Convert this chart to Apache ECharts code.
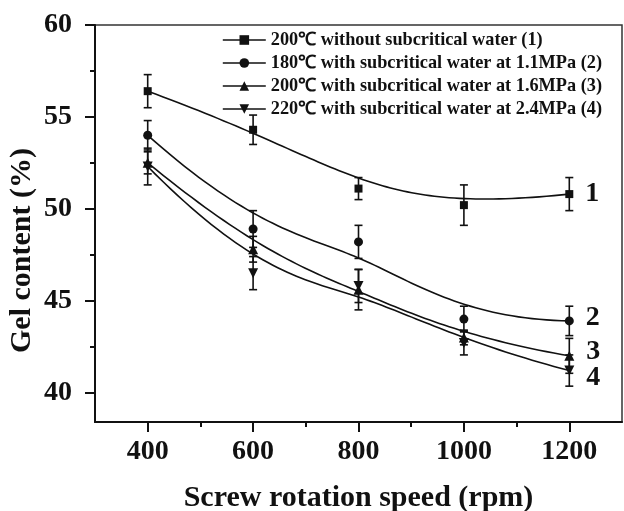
<!DOCTYPE html>
<html>
<head>
<meta charset="utf-8">
<script src="https://cdn.jsdelivr.net/npm/echarts@6/dist/echarts.min.js"></script>
<style>
  html, body { margin: 0; padding: 0; background: #fff; }
  #chart { width: 624px; height: 511px; }
</style>
</head>
<body>
<div id="chart"></div>
<script>
// screw speed (rpm)
const speeds = [400, 600, 800, 1000, 1200];

// gel content (%) and error bars
const gel1 = [56.4, 54.3, 51.1, 50.2, 50.8];
const err1 = [0.9, 0.8, 0.6, 1.1, 0.9];
const gel2 = [54.0, 48.9, 48.2, 44.0, 43.9];
const err2 = [0.8, 1.0, 0.9, 0.7, 0.8];
const gel3 = [52.5, 47.8, 45.6, 43.0, 42.0];
const err3 = [0.6, 0.7, 1.1, 0.4, 0.95];
const gel4 = [52.3, 46.5, 45.8, 42.7, 41.2];
const err4 = [1.0, 0.9, 0.9, 0.65, 0.85];

const names = [
  '200℃ without subcritical water (1)',
  '180℃ with subcritical water at 1.1MPa (2)',
  '200℃ with subcritical water at 1.6MPa (3)',
  '220℃ with subcritical water at 2.4MPa (4)'
];
const tags = ['1', '2', '3', '4'];

const yTicks = [40, 45, 50, 55, 60];
const yMinorTicks = [42.5, 47.5, 52.5, 57.5];
const xTicks = [400, 600, 800, 1000, 1200];
const xMinorTicks = [500, 700, 900, 1100];

const FONT = "'Liberation Serif', 'Times New Roman', serif";
const INK = '#111';

const chart = echarts.init(document.getElementById('chart'));

const sets = [
  { y: gel1, e: err1, symbol: 'rect', size: 8, rot: 0, tagDy: 0 },
  { y: gel2, e: err2, symbol: 'circle', size: 9, rot: 0, tagDy: -3 },
  { y: gel3, e: err3, symbol: 'triangle', size: 10, rot: 0, tagDy: -4 },
  { y: gel4, e: err4, symbol: 'triangle', size: 10, rot: 180, tagDy: 7 }
];

// clamped cubic B-spline with the data points as control points (like Origin's "B-Spline" connect)
function basis(i, p, u, knots) {
  if (p === 0) {
    if (u === knots[knots.length - 1]) return (knots[i] < u && u <= knots[i + 1]) ? 1 : 0;
    return (knots[i] <= u && u < knots[i + 1]) ? 1 : 0;
  }
  let a = 0, b = 0;
  const d1 = knots[i + p] - knots[i];
  const d2 = knots[i + p + 1] - knots[i + 1];
  if (d1 > 0) a = (u - knots[i]) / d1 * basis(i, p - 1, u, knots);
  if (d2 > 0) b = (knots[i + p + 1] - u) / d2 * basis(i + 1, p - 1, u, knots);
  return a + b;
}

function bsplinePath(xs, ys, api) {
  const n = xs.length, p = 3;
  const inner = n - p - 1;
  const knots = [];
  for (let i = 0; i <= p; i++) knots.push(0);
  for (let i = 1; i <= inner; i++) knots.push(i / (inner + 1));
  for (let i = 0; i <= p; i++) knots.push(1);
  const pts = [];
  const steps = 80;
  for (let s = 0; s <= steps; s++) {
    const u = s / steps;
    let x = 0, y = 0;
    for (let i = 0; i < n; i++) {
      const w = basis(i, p, u, knots);
      x += w * xs[i];
      y += w * ys[i];
    }
    pts.push(api.coord([x, y]));
  }
  return pts;
}

function errorBars(params, api) {
  const x = api.value(0), y = api.value(1), e = api.value(2);
  const top = api.coord([x, y + e]);
  const bot = api.coord([x, y - e]);
  const w = 4;
  const style = { stroke: INK, lineWidth: 1.6 };
  return {
    type: 'group',
    children: [
      { type: 'line', shape: { x1: top[0], y1: top[1], x2: bot[0], y2: bot[1] }, style: style },
      { type: 'line', shape: { x1: top[0] - w, y1: top[1], x2: top[0] + w, y2: top[1] }, style: style },
      { type: 'line', shape: { x1: bot[0] - w, y1: bot[1], x2: bot[0] + w, y2: bot[1] }, style: style }
    ]
  };
}

const series = [];
sets.forEach((s, k) => {
  // markers (and legend entry)
  series.push({
    name: names[k],
    type: 'line',
    symbol: s.symbol,
    symbolSize: s.size,
    symbolRotate: s.rot,
    lineStyle: { color: INK, width: 1.6, opacity: 0 },
    itemStyle: { color: INK },
    z: 4,
    data: speeds.map((x, i) => {
      if (i < speeds.length - 1) return [x, s.y[i]];
      return {
        value: [x, s.y[i]],
        label: {
          show: true,
          position: 'right',
          distance: 12,
          offset: [0, s.tagDy],
          formatter: tags[k],
          color: INK,
          fontFamily: FONT,
          fontWeight: 'bold',
          fontSize: 28
        }
      };
    })
  });
  // B-spline curve
  series.push({
    name: names[k] + ' curve',
    type: 'custom',
    silent: true,
    z: 3,
    renderItem: function (params, api) {
      if (params.dataIndex !== 0) return null;
      return {
        type: 'polyline',
        shape: { points: bsplinePath(speeds, s.y, api) },
        style: { stroke: INK, lineWidth: 1.6, fill: 'none' }
      };
    },
    data: speeds.map((x, i) => [x, s.y[i]])
  });
  // error bars
  series.push({
    name: names[k] + ' err',
    type: 'custom',
    renderItem: errorBars,
    z: 2,
    silent: true,
    data: speeds.map((x, i) => [x, s.y[i], s.e[i]])
  });
});

const option = {
  backgroundColor: '#fff',
  animation: false,
  grid: {
    left: 95, right: 2, top: 25, bottom: 89,
    outerBoundsMode: 'none',
    show: true, borderColor: '#333', borderWidth: 1.5
  },
  legend: {
    data: names,
    orient: 'vertical',
    left: 217,
    top: 26,
    itemWidth: 43,
    itemHeight: 12,
    itemGap: 5,
    lineStyle: { color: INK, width: 1.6, opacity: 1 },
    textStyle: { color: INK, fontFamily: FONT, fontWeight: 'bold', fontSize: 18.3, lineHeight: 18 }
  },
  xAxis: [
    {
      type: 'value', min: 300, max: 1300,
      name: 'Screw rotation speed (rpm)',
      nameLocation: 'middle',
      nameGap: 61,
      nameTextStyle: { color: INK, fontFamily: FONT, fontWeight: 'bold', fontSize: 30 },
      axisLine: { show: true, lineStyle: { color: INK, width: 2 } },
      axisTick: { show: true, length: 10, lineStyle: { color: INK, width: 2 }, customValues: xTicks },
      axisLabel: {
        color: INK, fontFamily: FONT, fontWeight: 'bold', fontSize: 28, margin: 16,
        customValues: xTicks, formatter: v => String(v)
      },
      splitLine: { show: false }
    },
    {
      type: 'value', min: 300, max: 1300, position: 'bottom',
      axisLine: { show: false },
      axisTick: { show: true, length: 5, lineStyle: { color: INK, width: 2 }, customValues: xMinorTicks },
      axisLabel: { show: false },
      splitLine: { show: false }
    }
  ],
  yAxis: [
    {
      type: 'value', min: 38.4, max: 60,
      name: 'Gel content (%)',
      nameLocation: 'middle',
      nameGap: 58,
      nameMoveOverlap: false,
      nameTextStyle: { color: INK, fontFamily: FONT, fontWeight: 'bold', fontSize: 30, padding: [0, 54, 0, 0] },
      axisLine: { show: true, lineStyle: { color: INK, width: 2 } },
      axisTick: { show: true, length: 10, lineStyle: { color: INK, width: 2 }, customValues: yTicks },
      axisLabel: {
        color: INK, fontFamily: FONT, fontWeight: 'bold', fontSize: 28, margin: 23,
        customValues: yTicks, formatter: v => String(v)
      },
      splitLine: { show: false }
    },
    {
      type: 'value', min: 38.4, max: 60, position: 'left',
      axisLine: { show: false },
      axisTick: { show: true, length: 5, lineStyle: { color: INK, width: 2 }, customValues: yMinorTicks },
      axisLabel: { show: false },
      splitLine: { show: false }
    }
  ],
  series: series
};

chart.setOption(option);
</script>
</body>
</html>
